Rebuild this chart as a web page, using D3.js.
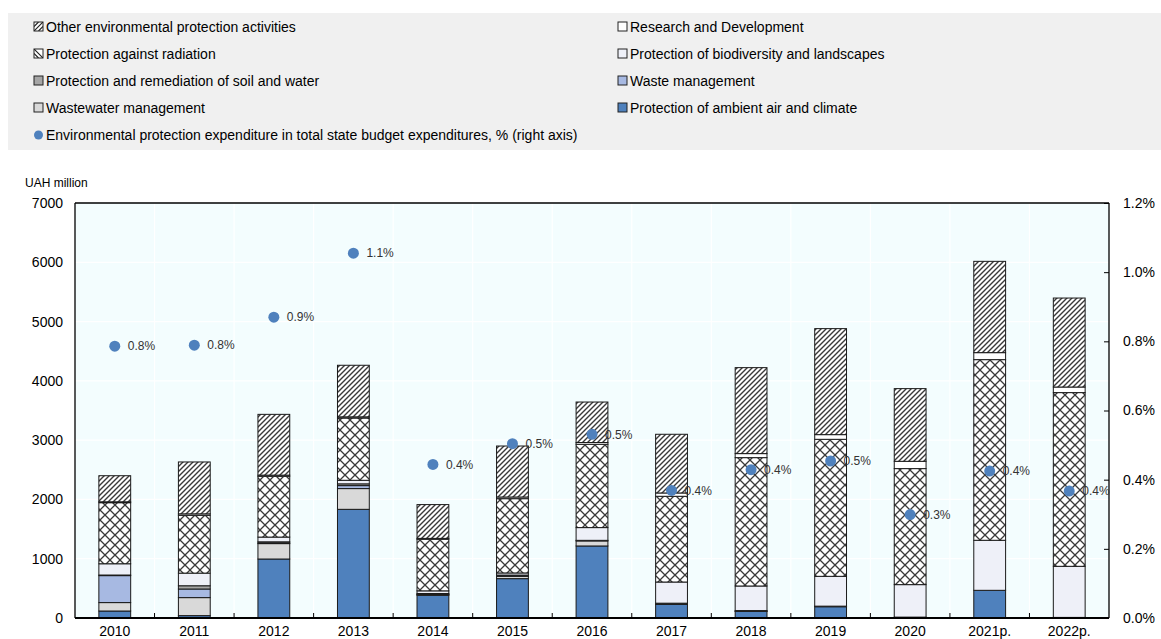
<!DOCTYPE html>
<html>
<head>
<meta charset="utf-8">
<script src="https://cdn.jsdelivr.net/npm/d3@7"></script>
<style>
  html, body { margin: 0; padding: 0; background: #ffffff; }
  svg { display: block; font-family: "Liberation Sans Narrow", "Arial Narrow", "Liberation Sans", Arial, sans-serif; }
</style>
</head>
<body>
<svg id="chart" width="1161" height="639"></svg>
<script>
const years = ["2010","2011","2012","2013","2014","2015","2016","2017","2018","2019","2020","2021p.","2022p."];
const air          = [118,  40, 995, 1833, 383, 664, 1215, 230, 110, 190,   0, 467,   0];
const wastewater   = [142, 304, 260,  350,  10,  40,   85,   5,   5,   5,  15,   0,  10];
const waste        = [455, 145,  10,   50,   5,   5,    0,   5,   0,   0,   0,   0,   0];
const soil         = [ 10,  55,  20,   30,  15,  15,   10,  10,  10,   5,   0,   0,   0];
const biodiversity = [190, 213,  80,   60,  45,  36,  215, 357, 415, 503, 548, 844, 862];
const radiation    = [1030, 975, 1025, 1050, 870, 1253, 1405, 1446, 2165, 2311, 1957, 3047, 2930];
const rnd          = [ 15,  25,  20,   20,  15,  28,   30,  56,  68,  79, 123, 118,  94];
const other        = [440, 875, 1025, 870, 570, 860,  683, 990, 1450, 1788, 1226, 1540, 1501];
const share        = [0.786, 0.789, 0.870, 1.055, 0.444, 0.504, 0.531, 0.369, 0.429, 0.454, 0.299, 0.425, 0.367];
const shareLabels  = ["0.8%","0.8%","0.9%","1.1%","0.4%","0.5%","0.5%","0.4%","0.4%","0.5%","0.3%","0.4%","0.4%"];
const leftTicks    = [0, 1000, 2000, 3000, 4000, 5000, 6000, 7000];
const rightTicks   = [0, 0.2, 0.4, 0.6, 0.8, 1.0, 1.2];

const seriesKeys  = ["air","wastewater","waste","soil","biodiversity","radiation","rnd","other"];
const seriesData  = {air, wastewater, waste, soil, biodiversity, radiation, rnd, other};
const seriesNames = {
  other: "Other environmental protection activities",
  rnd: "Research and Development",
  radiation: "Protection against radiation",
  biodiversity: "Protection of biodiversity and landscapes",
  soil: "Protection and remediation of soil and water",
  waste: "Waste management",
  wastewater: "Wastewater management",
  air: "Protection of ambient air and climate"
};
const fills = {
  air: "#4f81bd",
  wastewater: "#d9d9d9",
  waste: "#a7b9e2",
  soil: "#a6a6a6",
  biodiversity: "#eef0f8",
  radiation: "url(#crossHatch)",
  rnd: "#ffffff",
  other: "url(#diagHatch)"
};
const legendFills = Object.assign({}, fills, {radiation: "url(#legRad)", other: "url(#legOther)"});
const legendOrder = [["other","rnd"],["radiation","biodiversity"],["soil","waste"],["wastewater","air"]];

const svg = d3.select("#chart");
const defs = svg.append("defs");

// Patterns
const ch = defs.append("pattern").attr("id","crossHatch").attr("patternUnits","userSpaceOnUse")
  .attr("width",10).attr("height",10);
ch.append("rect").attr("width",10).attr("height",10).attr("fill","#ffffff");
ch.append("path").attr("d","M0,0L10,10M10,0L0,10").attr("stroke","#3a3a3a").attr("stroke-width",1.3);

const dh = defs.append("pattern").attr("id","diagHatch").attr("patternUnits","userSpaceOnUse")
  .attr("width",5).attr("height",5);
dh.append("rect").attr("width",5).attr("height",5).attr("fill","#ffffff");
dh.append("path").attr("d","M-1,6L6,-1M-1,1L1,-1M4,6L6,4").attr("stroke","#3a3a3a").attr("stroke-width",1.4);

// legend swatch patterns (single diagonal)
const lo = defs.append("pattern").attr("id","legOther").attr("patternUnits","objectBoundingBox")
  .attr("patternContentUnits","objectBoundingBox").attr("width",1).attr("height",1);
lo.append("rect").attr("width",1).attr("height",1).attr("fill","#ffffff");
lo.append("path").attr("d","M0,1L1,0M0,0.5L0.5,0M0.5,1L1,0.5").attr("stroke","#222").attr("stroke-width",0.13);
const lr = defs.append("pattern").attr("id","legRad").attr("patternUnits","objectBoundingBox")
  .attr("patternContentUnits","objectBoundingBox").attr("width",1).attr("height",1);
lr.append("rect").attr("width",1).attr("height",1).attr("fill","#ffffff");
lr.append("path").attr("d","M0,0L1,1M0,0.5L0.5,1").attr("stroke","#222").attr("stroke-width",0.13);

// Legend background
svg.append("rect").attr("x",8).attr("y",13).attr("width",1153).attr("height",137).attr("fill","#f0f0f0");

const legendRowsY = [27, 54, 81, 108, 135];
const legendColX = [34, 618];
legendOrder.forEach((row, ri) => {
  row.forEach((key, ci) => {
    const g = svg.append("g").attr("transform", `translate(${legendColX[ci]},${legendRowsY[ri]})`);
    g.append("rect").attr("x",0).attr("y",-5).attr("width",9).attr("height",9)
      .attr("fill", legendFills[key]).attr("stroke","#222").attr("stroke-width",1);
    g.append("text").attr("x",12).attr("y",0).attr("dy","0.35em")
      .attr("font-size",14).attr("fill","#000").text(seriesNames[key]);
  });
});
{
  const g = svg.append("g").attr("transform", `translate(${legendColX[0]},${legendRowsY[4]})`);
  g.append("circle").attr("cx",4.5).attr("cy",0).attr("r",4.5).attr("fill","#4f81bd");
  g.append("text").attr("x",12).attr("y",0).attr("dy","0.35em")
    .attr("font-size",14).attr("fill","#000")
    .text("Environmental protection expenditure in total state budget expenditures, % (right axis)");
}

// Plot geometry
const L = 75, R = 1109, T = 203, B = 618;
const x = d3.scaleBand().domain(years).range([L, R]).paddingInner(0.6).paddingOuter(0.3);
const y = d3.scaleLinear().domain([0, 7000]).range([B, T]);
const y2 = d3.scaleLinear().domain([0, 1.2]).range([B, T]);

svg.append("rect").attr("x",L).attr("y",T).attr("width",R-L).attr("height",B-T).attr("fill","#f3fdfe");

// gridlines
const step = x.step();
const boundaries = d3.range(1, years.length).map(i => L + i * step);
svg.append("g").selectAll("line").data(boundaries).join("line")
  .attr("x1", d => d).attr("x2", d => d).attr("y1", T).attr("y2", B)
  .attr("stroke","#ffffff").attr("stroke-width",1.2);
svg.append("g").selectAll("line").data(leftTicks.slice(1, -1)).join("line")
  .attr("x1", L).attr("x2", R).attr("y1", d => y(d)).attr("y2", d => y(d))
  .attr("stroke","#ffffff").attr("stroke-width",1.2);

// stacked bars
const table = years.map((yr, i) => {
  const o = {year: yr};
  seriesKeys.forEach(k => o[k] = seriesData[k][i]);
  return o;
});
const stack = d3.stack().keys(seriesKeys)(table);
const barsG = svg.append("g");
stack.forEach(layer => {
  barsG.append("g").selectAll("rect").data(layer).join("rect")
    .attr("x", d => x(d.data.year))
    .attr("width", x.bandwidth())
    .attr("y", d => y(d[1]))
    .attr("height", d => Math.max(0, y(d[0]) - y(d[1])))
    .attr("fill", fills[layer.key])
    .attr("stroke", "#1a1a1a")
    .attr("stroke-width", 1);
});

// axes
const xAxis = d3.axisBottom(x).tickSize(0).tickPadding(8);
const gx = svg.append("g").attr("transform", `translate(0,${B})`).call(xAxis);
gx.select(".domain").remove();
gx.selectAll("text").attr("font-size",14).attr("fill","#000").style("font-family","inherit");
svg.append("g").selectAll("line").data(boundaries).join("line")
  .attr("x1", d => d).attr("x2", d => d).attr("y1", B).attr("y2", B - 5)
  .attr("stroke","#000").attr("stroke-width",1);

const yAxis = d3.axisLeft(y).tickValues(leftTicks).tickSize(0).tickPadding(12).tickFormat(d3.format("d"));
const gy = svg.append("g").attr("transform", `translate(${L},0)`).call(yAxis);
gy.select(".domain").remove();
gy.selectAll("text").attr("font-size",14).attr("fill","#000").style("font-family","inherit");

const yAxis2 = d3.axisRight(y2).tickValues(rightTicks).tickSize(-5).tickPadding(14).tickFormat(d => d.toFixed(1) + "%");
const gy2 = svg.append("g").attr("transform", `translate(${R},0)`).call(yAxis2);
gy2.select(".domain").remove();
gy2.selectAll("line").attr("stroke","#000");
gy2.selectAll("text").attr("font-size",14).attr("fill","#000").style("font-family","inherit");

// frame
svg.append("line").attr("x1",L).attr("x2",R).attr("y1",T).attr("y2",T).attr("stroke","#000").attr("stroke-width",1.3);
svg.append("line").attr("x1",L).attr("x2",L).attr("y1",T).attr("y2",B).attr("stroke","#000").attr("stroke-width",1.3);
svg.append("line").attr("x1",R).attr("x2",R).attr("y1",T).attr("y2",B).attr("stroke","#000").attr("stroke-width",1.3);
svg.append("line").attr("x1",L).attr("x2",R).attr("y1",B).attr("y2",B).attr("stroke","#000").attr("stroke-width",2);

// unit label
svg.append("text").attr("x",25).attr("y",187).attr("font-size",12).attr("fill","#000").text("UAH million");

// dots
const cx = d => x(d) + x.bandwidth() / 2;
svg.append("g").selectAll("circle").data(years).join("circle")
  .attr("cx", d => cx(d)).attr("cy", (d, i) => y2(share[i])).attr("r", 5.5).attr("fill", "#4f81bd");
svg.append("g").selectAll("text").data(years).join("text")
  .attr("x", d => cx(d) + 13).attr("y", (d, i) => y2(share[i])).attr("dy","0.35em")
  .attr("font-size",12).attr("fill","#333").text((d, i) => shareLabels[i]);
</script>
</body>
</html>
